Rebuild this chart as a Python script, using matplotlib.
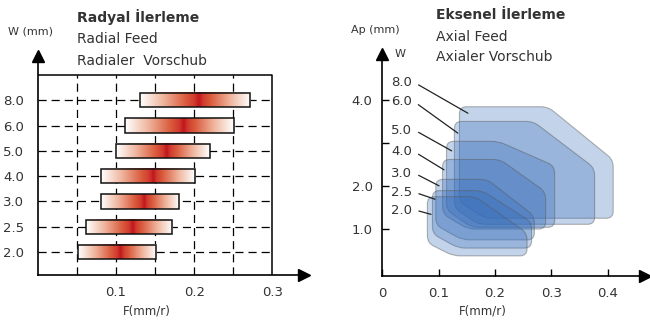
import numpy as np
import matplotlib.pyplot as plt
from matplotlib.colors import LinearSegmentedColormap
from matplotlib.patches import Rectangle, PathPatch
from matplotlib.path import Path

plt.rcParams['font.family'] = ['DejaVu Sans']

# --- data ---
w_labels = ['2.0', '2.5', '3.0', '4.0', '5.0', '6.0', '8.0']

# radial feed bars (F range and the point of max colour)
radial_lo = [0.051, 0.061, 0.081, 0.081, 0.100, 0.112, 0.131]
radial_hi = [0.151, 0.172, 0.181, 0.201, 0.220, 0.251, 0.272]
radial_peak = [0.105, 0.121, 0.136, 0.148, 0.165, 0.187, 0.206]

# axial feed areas: left/right F, top/bottom Ap, plus chamfer corners
axial_left = [0.080, 0.089, 0.095, 0.107, 0.114, 0.128, 0.137]
axial_right = [0.257, 0.265, 0.270, 0.290, 0.306, 0.377, 0.410]
axial_top = [1.76, 1.90, 2.16, 2.62, 3.04, 3.50, 3.84]
axial_bottom = [0.39, 0.57, 0.76, 1.01, 1.05, 1.12, 1.26]
axial_top_end = [0.165, 0.177, 0.186, 0.209, 0.206, 0.268, 0.294]
axial_right_start = [0.92, 1.17, 1.31, 1.87, 2.47, 2.42, 2.61]
axial_bottom_start = [0.126, 0.135, 0.142, 0.152, 0.159, 0.170, 0.182]
axial_left_end = [0.69, 0.90, 1.10, 1.36, 1.45, 1.50, 1.64]

# label positions for the W leader lines
lab_y = [1.44, 1.85, 2.30, 2.80, 3.30, 3.96, 4.40]
lab_end_x = [0.0865, 0.0936, 0.1007, 0.1096, 0.123, 0.134, 0.152]
lab_end_y = [1.35, 1.70, 2.01, 2.38, 2.82, 3.23, 3.69]

TXT = '#333333'

fig = plt.figure(figsize=(6.5, 3.22), dpi=100)


def fx(px):
    return px / 650


def fy(py):
    return 1 - py / 322


# ---------------- left: radial feed ----------------
ax1 = fig.add_axes([0.0585, 0.146, 0.4085, 0.680])
ax1.set_xlim(0, 0.340)
ax1.set_ylim(-0.909, 7.75)

for gx in [0.05, 0.1, 0.15, 0.2, 0.25]:
    ax1.plot([gx, gx], [-0.909, 7], color='k', lw=0.9, ls=(0, (6.5, 4)), zorder=1)
for i in range(len(w_labels)):
    ax1.plot([0, 0.3], [i, i], color='k', lw=0.9, ls=(0, (6.5, 4)), zorder=1)
ax1.plot([0, 0.3, 0.3], [7, 7, -0.909], color='k', lw=1.1, zorder=1)

cmap = LinearSegmentedColormap.from_list('bar', [
    (0.0, '#ffffff'), (0.4, '#efb49c'), (0.78, '#da5a3c'),
    (0.92, '#d03c2e'), (1.0, '#c2161e')])

h = 0.28
for i in range(len(w_labels)):
    lo, hi, pk = radial_lo[i], radial_hi[i], radial_peak[i]
    xs = np.linspace(lo, hi, 300)
    t = np.where(xs < pk, (xs - lo) / (pk - lo), (hi - xs) / (hi - pk))
    ax1.imshow(t[None, :], cmap=cmap, vmin=0, vmax=1, aspect='auto',
               extent=[lo, hi, i - h, i + h], interpolation='bilinear', zorder=3)
    ax1.add_patch(Rectangle((lo, i - h), hi - lo, 2 * h, fill=False,
                            ec='#111111', lw=1.1, zorder=4))

ax1.set_xlim(0, 0.340)
ax1.set_ylim(-0.909, 7.75)
ax1.set_xticks([0.1, 0.2, 0.3])
ax1.set_xticklabels(['0.1', '0.2', '0.3'])
ax1.set_yticks(range(len(w_labels)))
ax1.set_yticklabels(w_labels)
ax1.tick_params(length=0, labelsize=9.5, labelcolor=TXT)
ax1.tick_params(axis='y', pad=10)
ax1.tick_params(axis='x', pad=8)
for s in ['top', 'right']:
    ax1.spines[s].set_visible(False)
for s in ['left', 'bottom']:
    ax1.spines[s].set_linewidth(1.2)
ax1.plot(1, 0, '>', color='k', ms=9, transform=ax1.transAxes, clip_on=False)
ax1.plot(0, 1, '^', color='k', ms=9, transform=ax1.transAxes, clip_on=False)
ax1.set_xlabel('F(mm/r)', fontsize=8.5, color=TXT)
ax1.xaxis.set_label_coords(0.41, -0.135)

fig.text(fx(30), fy(31), 'W (mm)', fontsize=8, color=TXT, ha='center', va='center')
fig.text(fx(77), fy(17), 'Radyal İlerleme', fontsize=10, fontweight='bold', color=TXT, va='center')
fig.text(fx(77), fy(39), 'Radial Feed', fontsize=10, color=TXT, va='center')
fig.text(fx(77), fy(61), 'Radialer  Vorschub', fontsize=10, color=TXT, va='center')

# ---------------- right: axial feed ----------------
ax2 = fig.add_axes([0.5882, 0.1438, 0.4042, 0.6885])
SX, SY = 563.0, 43.2


def rounded_path(pts, r=7.0):
    p = np.array(pts) * [SX, SY]
    n = len(p)
    verts, codes = [], []
    for k in range(n):
        p0, p1, p2 = p[k - 1], p[k], p[(k + 1) % n]
        d0, d2 = p1 - p0, p2 - p1
        l0, l2 = np.linalg.norm(d0), np.linalg.norm(d2)
        a = p1 - d0 / l0 * min(r, l0 / 2)
        b = p1 + d2 / l2 * min(r, l2 / 2)
        verts.append(a)
        codes.append(Path.MOVETO if k == 0 else Path.LINETO)
        verts += [p1, b]
        codes += [Path.CURVE3, Path.CURVE3]
    verts.append(verts[0])
    codes.append(Path.CLOSEPOLY)
    return Path(np.array(verts) / [SX, SY], codes)


for i in reversed(range(len(w_labels))):
    pts = [(axial_left[i], axial_top[i]),
           (axial_top_end[i], axial_top[i]),
           (axial_right[i], axial_right_start[i]),
           (axial_right[i], axial_bottom[i]),
           (axial_bottom_start[i], axial_bottom[i]),
           (axial_left[i], axial_left_end[i])]
    ax2.add_patch(PathPatch(rounded_path(pts), fc=(0.2, 0.42, 0.72, 0.29),
                            ec=(0.35, 0.35, 0.35, 0.45), lw=0.8, zorder=2))

for i, lab in enumerate(w_labels):
    ax2.annotate(lab, xy=(lab_end_x[i], lab_end_y[i]), xytext=(0.053, lab_y[i]),
                 ha='right', va='center', fontsize=9.5, color=TXT,
                 arrowprops=dict(arrowstyle='-', color='#222222', lw=0.9,
                                 shrinkA=3, shrinkB=0, relpos=(1, 0.6)))

ax2.set_xlim(0, 0.4666)
ax2.set_ylim(-0.069, 5.06)
ax2.set_xticks([0, 0.1, 0.2, 0.3, 0.4])
ax2.set_xticklabels(['0', '0.1', '0.2', '0.3', '0.4'])
ax2.set_yticks([1, 2, 3, 4])
ax2.set_yticklabels(['1.0', '2.0', '', '4.0'])
ax2.tick_params(direction='in', length=5, width=1, labelsize=9.5, labelcolor=TXT)
ax2.tick_params(axis='x', pad=8)
ax2.tick_params(axis='y', pad=7)
for s in ['top', 'right']:
    ax2.spines[s].set_visible(False)
for s in ['left', 'bottom']:
    ax2.spines[s].set_linewidth(1.2)
ax2.plot(1, 0, '>', color='k', ms=9, transform=ax2.transAxes, clip_on=False)
ax2.plot(0, 1, '^', color='k', ms=9, transform=ax2.transAxes, clip_on=False)
ax2.set_xlabel('F(mm/r)', fontsize=8.5, color=TXT)
ax2.xaxis.set_label_coords(0.383, -0.132)

fig.text(fx(375), fy(30), 'Ap (mm)', fontsize=8, color=TXT, ha='center', va='center')
fig.text(fx(395), fy(54), 'W', fontsize=8, color=TXT, va='center')
fig.text(fx(436), fy(15), 'Eksenel İlerleme', fontsize=10, fontweight='bold', color=TXT, va='center')
fig.text(fx(436), fy(37), 'Axial Feed', fontsize=10, color=TXT, va='center')
fig.text(fx(436), fy(57), 'Axialer Vorschub', fontsize=10, color=TXT, va='center')

fig.savefig('out.png', dpi=100)
